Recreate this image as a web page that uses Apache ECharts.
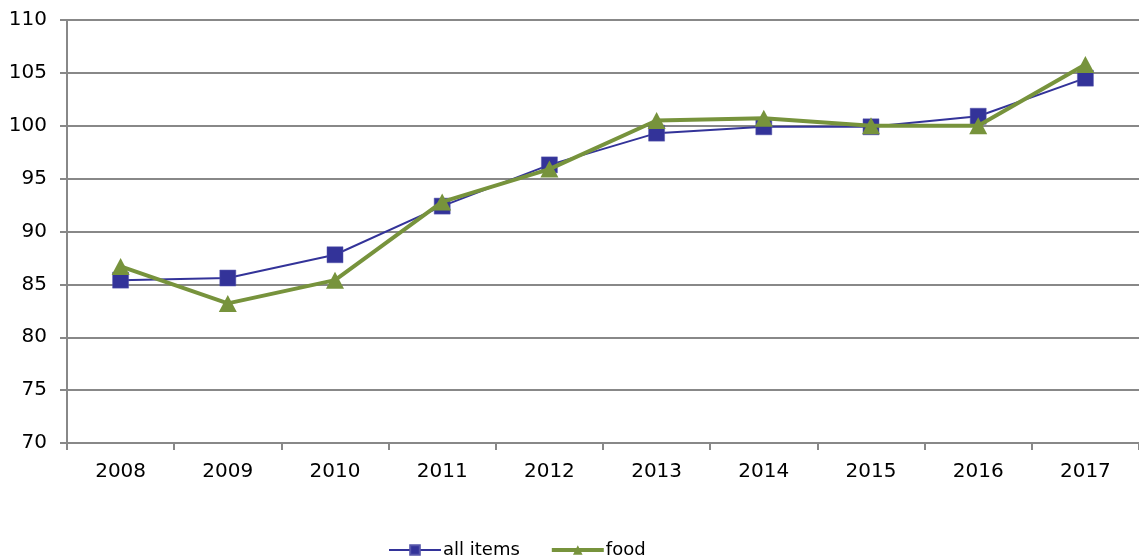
<!DOCTYPE html>
<html>
<head>
<meta charset="utf-8">
<script src="https://cdn.jsdelivr.net/npm/echarts@6/dist/echarts.min.js"></script>
<style>html,body{margin:0;padding:0;background:#fff}#c{width:1139px;height:558px}</style>
</head>
<body>
<div id="c"></div>
<script>
const categories = ['2008','2009','2010','2011','2012','2013','2014','2015','2016','2017'];
const allItems = [85.4, 85.6, 87.8, 92.4, 96.3, 99.3, 99.9, 99.9, 100.9, 104.5];
const food = [86.7, 83.2, 85.4, 92.8, 95.9, 100.5, 100.7, 100.0, 100.0, 105.8];
const yTicks = {min: 70, max: 110, interval: 5};

const chart = echarts.init(document.getElementById('c'));
const font = 'DejaVu Sans, Verdana, sans-serif';
chart.setOption({
  animation: false,
  backgroundColor: '#fff',
  grid: {left: 67, right: -2, top: 20, bottom: 115, containLabel: false},
  legend: {
    left: 383, top: 536, itemGap: 30, itemWidth: 52, itemHeight: 12,
    textStyle: {fontFamily: font, fontSize: 18, color: '#000', padding: [0,0,0,-3]},
    data: [
      {name: 'all items', lineStyle: {width: 2}},
      {name: 'food', lineStyle: {width: 4}}
    ]
  },
  xAxis: {
    type: 'category', data: categories, boundaryGap: true,
    axisLine: {lineStyle: {color: '#888', width: 2}},
    axisTick: {show: true, length: 7, lineStyle: {color: '#888', width: 2}},
    axisLabel: {fontFamily: font, fontSize: 20, color: '#000', margin: 19}
  },
  yAxis: {
    type: 'value', min: yTicks.min, max: yTicks.max, interval: yTicks.interval,
    axisLine: {show: true, lineStyle: {color: '#888', width: 2}},
    axisTick: {show: true, length: 7, lineStyle: {color: '#888', width: 2}},
    splitLine: {lineStyle: {color: '#888', width: 2}},
    axisLabel: {fontFamily: font, fontSize: 20, color: '#000', margin: 20}
  },
  series: [
    {
      name: 'all items', type: 'line', data: allItems,
      symbol: 'rect', symbolSize: 16,
      lineStyle: {color: '#333399', width: 2},
      itemStyle: {color: '#333399', borderColor: '#5555aa', borderWidth: 0.5},
      z: 2
    },
    {
      name: 'food', type: 'line', data: food,
      symbol: 'triangle', symbolSize: [18, 17],
      lineStyle: {color: '#77933C', width: 4},
      itemStyle: {color: '#77933C'},
      z: 3
    }
  ]
});
</script>
</body>
</html>
